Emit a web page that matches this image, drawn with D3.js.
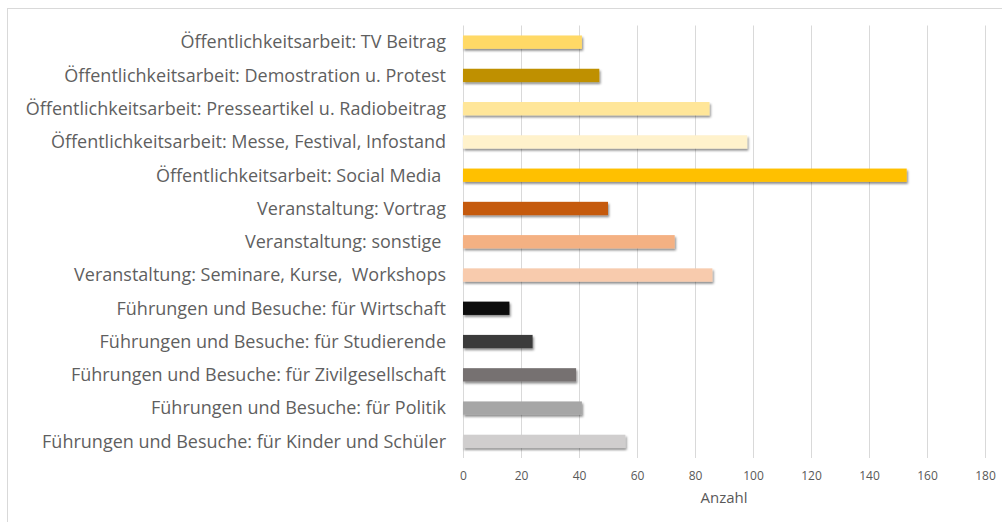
<!DOCTYPE html>
<html>
<head>
<meta charset="utf-8">
<script src="https://cdn.jsdelivr.net/npm/d3@7"></script>
<style>
  body { margin: 0; background: #fff; }
  svg { display: block; }
</style>
</head>
<body>
<svg id="chart" width="1002" height="522"></svg>
<script>
// categories top to bottom
var categories = [
  "Öffentlichkeitsarbeit: TV Beitrag",
  "Öffentlichkeitsarbeit: Demostration u. Protest",
  "Öffentlichkeitsarbeit: Presseartikel u. Radiobeitrag",
  "Öffentlichkeitsarbeit: Messe, Festival, Infostand",
  "Öffentlichkeitsarbeit: Social Media ",
  "Veranstaltung: Vortrag",
  "Veranstaltung: sonstige ",
  "Veranstaltung: Seminare, Kurse,  Workshops",
  "Führungen und Besuche: für Wirtschaft",
  "Führungen und Besuche: für Studierende",
  "Führungen und Besuche: für Zivilgesellschaft",
  "Führungen und Besuche: für Politik",
  "Führungen und Besuche: für Kinder und Schüler"
]
var values = [41, 47, 85, 98, 153, 50, 73, 86, 16, 24, 39, 41, 56]
var barColors = ["#ffd966", "#bf9000", "#ffe699", "#fff2cc", "#ffc000", "#c55a11", "#f4b183",
                 "#f8cbad", "#0d0d0d", "#3b3b3b", "#767171", "#a6a6a6", "#d0cece"]
var xTicks = [0, 20, 40, 60, 80, 100, 120, 140, 160, 180]
var xTitle = "Anzahl"

var svg = d3.select("#chart")

var margin = { top: 25.5, left: 463, right: 16, bottom: 64 }
var height = 522 - margin.top - margin.bottom

// outer chart frame (runs off the right and bottom edges)
svg.append("rect")
  .attr("x", 7.5).attr("y", 8.5)
  .attr("width", 1100).attr("height", 600)
  .attr("fill", "none")
  .attr("stroke", "#d9d9d9")

var defs = svg.append("defs")
var shadow = defs.append("filter").attr("id", "shadow")
  .attr("x", "-10%").attr("y", "-50%").attr("width", "130%").attr("height", "250%")
shadow.append("feDropShadow")
  .attr("dx", 1.2).attr("dy", 2)
  .attr("stdDeviation", 1)
  .attr("flood-color", "#000")
  .attr("flood-opacity", 0.45)

var x = d3.scaleLinear().domain([0, 180]).range([0, 985 - margin.left])
var y = d3.scaleBand().domain(categories).range([0, height]).paddingInner(0.6).paddingOuter(0.3)

var g = svg.append("g").attr("transform", "translate(" + margin.left + "," + margin.top + ")")

// vertical gridlines
g.selectAll(".grid")
  .data(xTicks)
  .enter().append("line")
  .attr("x1", d => Math.round(x(d)) + 0.5)
  .attr("x2", d => Math.round(x(d)) + 0.5)
  .attr("y1", 0)
  .attr("y2", height)
  .attr("stroke", "#d9d9d9")
  .attr("stroke-width", 1)

// bars
g.selectAll(".bar")
  .data(values)
  .enter().append("rect")
  .attr("x", 0)
  .attr("y", (d, i) => y(categories[i]))
  .attr("width", d => x(d))
  .attr("height", y.bandwidth())
  .attr("fill", (d, i) => barColors[i])
  .attr("filter", "url(#shadow)")

// category labels
g.selectAll(".cat")
  .data(categories)
  .enter().append("text")
  .attr("x", -17)
  .attr("y", d => y(d) + y.bandwidth() / 2)
  .attr("dy", "0.35em")
  .attr("text-anchor", "end")
  .attr("font-family", "Open Sans, sans-serif")
  .attr("font-size", 18)
  .attr("fill", "#5f5f5f")
  .style("white-space", "pre")
  .text(d => d)

// x axis tick labels
var xAxis = d3.axisBottom(x).tickValues(xTicks).tickSize(0).tickPadding(13)
var ax = g.append("g").attr("transform", "translate(0," + height + ")").call(xAxis)
ax.select(".domain").remove()
ax.selectAll("text")
  .attr("font-family", "Open Sans, sans-serif")
  .attr("font-size", 12)
  .attr("fill", "#595959")

svg.append("text")
  .attr("x", margin.left + x(90))
  .attr("y", 503)
  .attr("text-anchor", "middle")
  .attr("font-family", "Open Sans, sans-serif")
  .attr("font-size", 15)
  .attr("fill", "#595959")
  .text(xTitle)
</script>
</body>
</html>
